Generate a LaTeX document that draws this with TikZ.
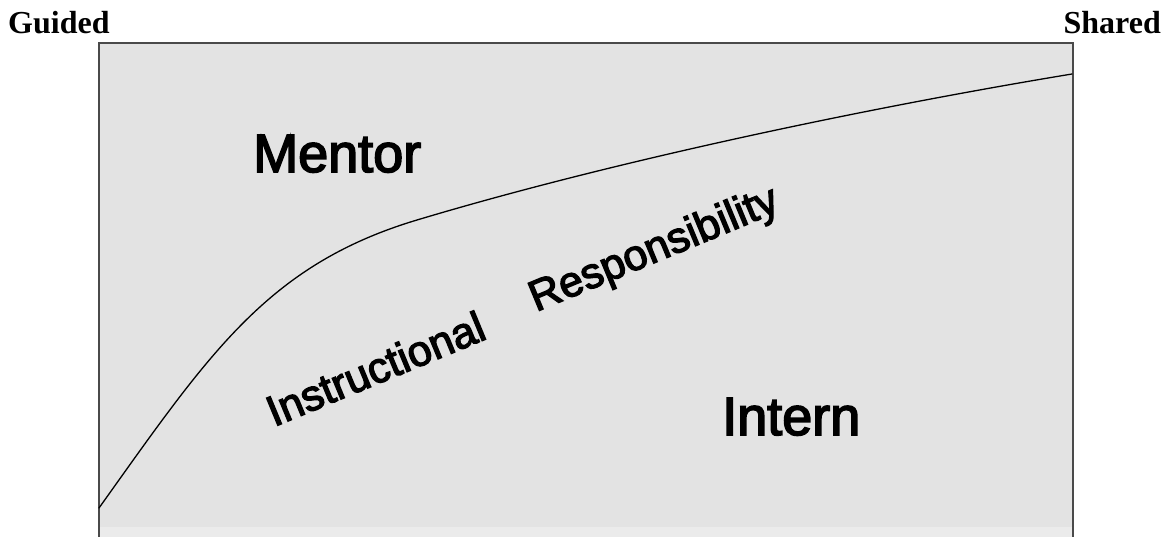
\documentclass[tikz,border=0pt]{standalone}
\usepackage{fontspec}
\setmainfont{Liberation Serif}
\setsansfont{Liberation Sans}
\newfontfamily\heavysans[FakeBold=3]{Liberation Sans}
\begin{document}
\begin{tikzpicture}[x=1pt,y=-1pt,
  endlabel/.style={inner sep=0pt, font=\rmfamily\bfseries\fontsize{32}{38}\selectfont},
  rolelabel/.style={inner sep=0pt, font=\heavysans\fontsize{54}{60}\selectfont},
  slantlabel/.style={inner sep=0pt, rotate=22.5, font=\heavysans\fontsize{43}{50}\selectfont}]
\useasboundingbox (0,0) rectangle (1167,537);
\definecolor{panel}{HTML}{E3E3E3}
\definecolor{band}{HTML}{EBEBEB}
\definecolor{frame}{HTML}{4A4A4A}
% panel
\fill[panel] (99,43) rectangle (1073,537);
\fill[band] (100,527) rectangle (1072,537);
\draw[frame, line width=1.8pt] (99,537) -- (99,43) -- (1073,43) -- (1073,537);
% curve
\draw[black, line width=1.3pt, line cap=round]
  (99,508) .. controls (209,354) and (267,265) .. (417,220)
           .. controls (617,160) and (872,107) .. (1072,74);
% labels
\node[endlabel, anchor=base west] (guided) at (8,34) {Guided};
\node[endlabel, anchor=base east] (shared) at (1161,34) {Shared};
\node[rolelabel, anchor=base west] (mentor) at (253,172) {Mentor};
\node[rolelabel, anchor=base west] (intern) at (722,435) {Intern};
\node[slantlabel, anchor=base west] (instr) at (274,427) {Instructional};
\node[slantlabel, anchor=base west] (resp) at (536,312) {Responsibility};
\end{tikzpicture}
\end{document}
